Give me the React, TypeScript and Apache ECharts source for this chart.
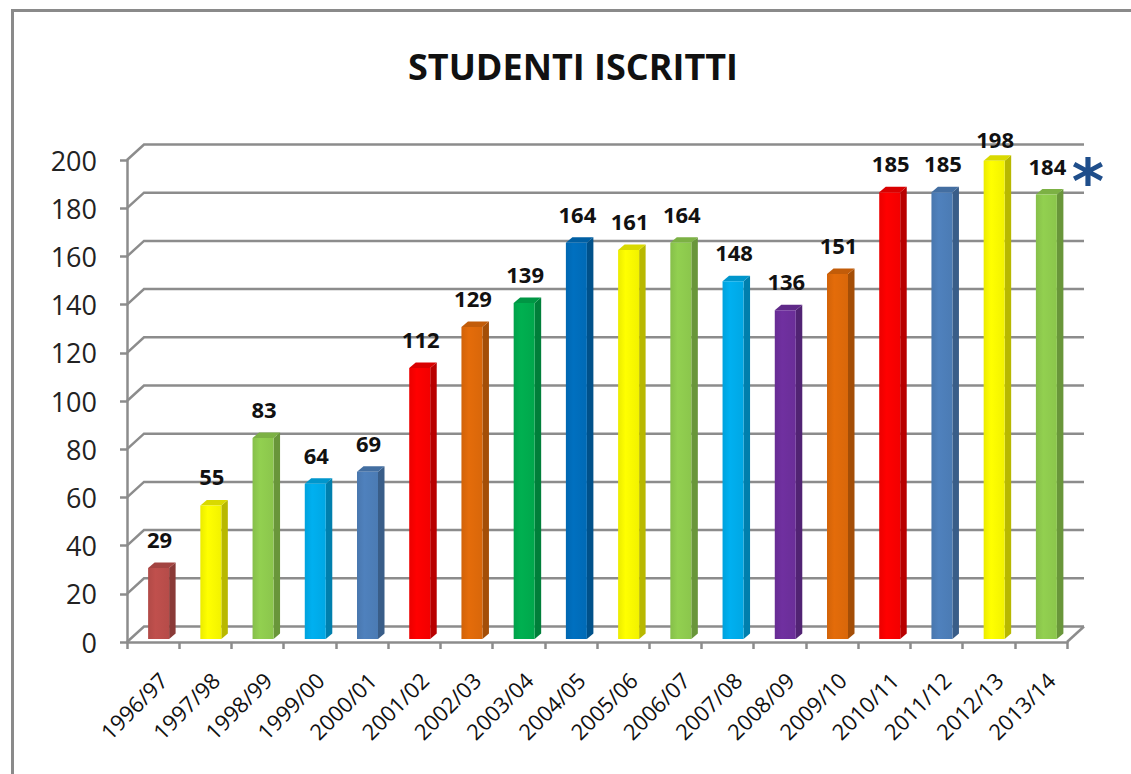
import React, { useEffect, useRef } from "react";
import * as echarts from "echarts";

const categories = [
  "1996/97", "1997/98", "1998/99", "1999/00", "2000/01", "2001/02",
  "2002/03", "2003/04", "2004/05", "2005/06", "2006/07", "2007/08",
  "2008/09", "2009/10", "2010/11", "2011/12", "2012/13", "2013/14",
];
const students = [29, 55, 83, 64, 69, 112, 129, 139, 164, 161, 164, 148, 136, 151, 185, 185, 198, 184];
const barColors = [
  "#C0504D", "#FFFF00", "#92D050", "#00B0F0", "#4F81BD", "#FF0000",
  "#E46C0A", "#00B050", "#0070C0", "#FFFF00", "#92D050", "#00B0F0",
  "#7030A0", "#E46C0A", "#FF0000", "#4F81BD", "#FFFF00", "#92D050",
];
const yTicks = [0, 20, 40, 60, 80, 100, 120, 140, 160, 180, 200];
const titleText = "STUDENTI ISCRITTI";
const noteMark = "*";

const FONT = "'Open Sans', 'Noto Sans', sans-serif";
const GRID_COLOR = "#8c8c8c";
const WALL_DX = 17;
const WALL_DY = 15.5;

function shade(hex: string, f: number): string {
  const n = parseInt(hex.slice(1), 16);
  const r = Math.min(255, Math.round(((n >> 16) & 255) * f));
  const g = Math.min(255, Math.round(((n >> 8) & 255) * f));
  const b = Math.min(255, Math.round((n & 255) * f));
  return `rgb(${r},${g},${b})`;
}

export default function App() {
  const ref = useRef<HTMLDivElement>(null);

  useEffect(() => {
    if (!ref.current) return;
    const chart = echarts.init(ref.current, undefined, { renderer: "svg" });

    const wallRender = (params: any, api: any) => {
      const cs = params.coordSys;
      const v = api.value(0);
      const p = api.coord([0, v]);
      const y = p[1];
      const x0 = cs.x;
      const x1 = cs.x + cs.width;
      const children: any[] = [
        {
          type: "polyline",
          shape: {
            points: [
              [x0, y],
              [x0 + WALL_DX, y - WALL_DY],
              [x1 + WALL_DX, y - WALL_DY],
            ],
          },
          style: { stroke: GRID_COLOR, lineWidth: 2.5, fill: null },
        },
      ];
      if (v === 0) {
        children.push({
          type: "line",
          shape: { x1: x1, y1: y, x2: x1 + WALL_DX, y2: y - WALL_DY },
          style: { stroke: GRID_COLOR, lineWidth: 2.5 },
        });
      }
      return { type: "group", children };
    };

    const barRender = (params: any, api: any) => {
      const idx = api.value(0);
      const v = api.value(1);
      const top = api.coord([idx, v]);
      const base = api.coord([idx, 0]);
      const color = barColors[idx];
      const cx = top[0] + 5.5;
      const bw = 21;
      const dx = 6.5;
      const dy = 5.5;
      const x0 = cx - bw / 2;
      const x1 = cx + bw / 2;
      const y0 = top[1] - 4;
      const y1 = base[1] - 3;
      const gridTop = params.coordSys.y;
      return {
        type: "group",
        children: [
          {
            type: "polygon",
            shape: { points: [[x1, y0], [x1 + dx, y0 - dy], [x1 + dx, y1 - dy], [x1, y1]] },
            style: { fill: shade(color, 0.72) },
          },
          {
            type: "polygon",
            shape: { points: [[x0, y0], [x0 + dx, y0 - dy], [x1 + dx, y0 - dy], [x1, y0]] },
            style: { fill: shade(color, 0.85) },
          },
          {
            type: "rect",
            shape: { x: x0, y: y0, width: bw, height: y1 - y0 },
            style: {
              fill: new echarts.graphic.LinearGradient(0, 0, 1, 0, [
                { offset: 0, color: shade(color, 0.92) },
                { offset: 0.35, color: color },
                { offset: 1, color: shade(color, 0.95) },
              ]),
            },
          },
          {
            type: "text",
            x: cx + 1,
            y: Math.max(y0 - 29, gridTop - 21),
            style: {
              text: String(v),
              align: "center",
              verticalAlign: "middle",
              font: `bold 22px ${FONT}`,
              fill: "#111",
            },
          },
          {
            type: "text",
            x: top[0] + 10,
            y: base[1] + 34,
            rotation: Math.PI / 4,
            style: {
              text: categories[idx],
              align: "right",
              verticalAlign: "middle",
              font: `22px ${FONT}`,
              fill: "#111",
            },
          },
        ],
      };
    };

    chart.setOption({
      animation: false,
      backgroundColor: "#ffffff",
      grid: { left: 127, right: 64, top: 160, bottom: 132, containLabel: false },
      xAxis: {
        type: "category",
        data: categories,
        boundaryGap: true,
        axisLine: { show: true, lineStyle: { color: GRID_COLOR, width: 2.5 } },
        axisTick: { show: true, interval: 0, length: 7, lineStyle: { color: GRID_COLOR, width: 2.5 } },
        axisLabel: { show: false },
        splitLine: { show: false },
      },
      yAxis: {
        type: "value",
        min: 0,
        max: 200,
        interval: 20,
        axisLine: { show: true, lineStyle: { color: GRID_COLOR, width: 2.5 } },
        axisTick: { show: true, length: 7, lineStyle: { color: GRID_COLOR, width: 2.5 } },
        axisLabel: { margin: 30, fontSize: 27, fontFamily: FONT, color: "#222" },
        splitLine: { show: false },
      },
      graphic: [
        {
          type: "rect",
          left: 10,
          top: 8,
          shape: { x: 0, y: 0, width: 1200, height: 900 },
          style: { fill: null, stroke: "#8a8a8a", lineWidth: 3 },
          silent: true,
          z: -10,
        },
        {
          type: "text",
          x: 573,
          y: 66,
          style: {
            text: titleText,
            align: "center",
            verticalAlign: "middle",
            font: `bold 36px ${FONT}`,
            fill: "#111",
          },
        },
        {
          type: "text",
          x: 1088,
          y: 181,
          style: {
            text: noteMark,
            align: "center",
            verticalAlign: "middle",
            font: `bold 62px 'DejaVu Sans', sans-serif`,
            fill: "#1F4E8B",
          },
        },
      ],
      series: [
        {
          type: "custom",
          name: "wall",
          coordinateSystem: "cartesian2d",
          renderItem: wallRender,
          data: yTicks.map((t) => [t]),
          encode: { y: 0 },
          z: 1,
          silent: true,
        },
        {
          type: "custom",
          name: "Studenti iscritti",
          coordinateSystem: "cartesian2d",
          renderItem: barRender,
          data: students.map((v, i) => [i, v]),
          encode: { x: 0, y: 1 },
          z: 5,
        },
      ],
    });

    return () => chart.dispose();
  }, []);

  return (
    <div
      ref={ref}
      style={{ position: "absolute", left: 0, top: 0, width: 1131, height: 774 }}
    />
  );
}
